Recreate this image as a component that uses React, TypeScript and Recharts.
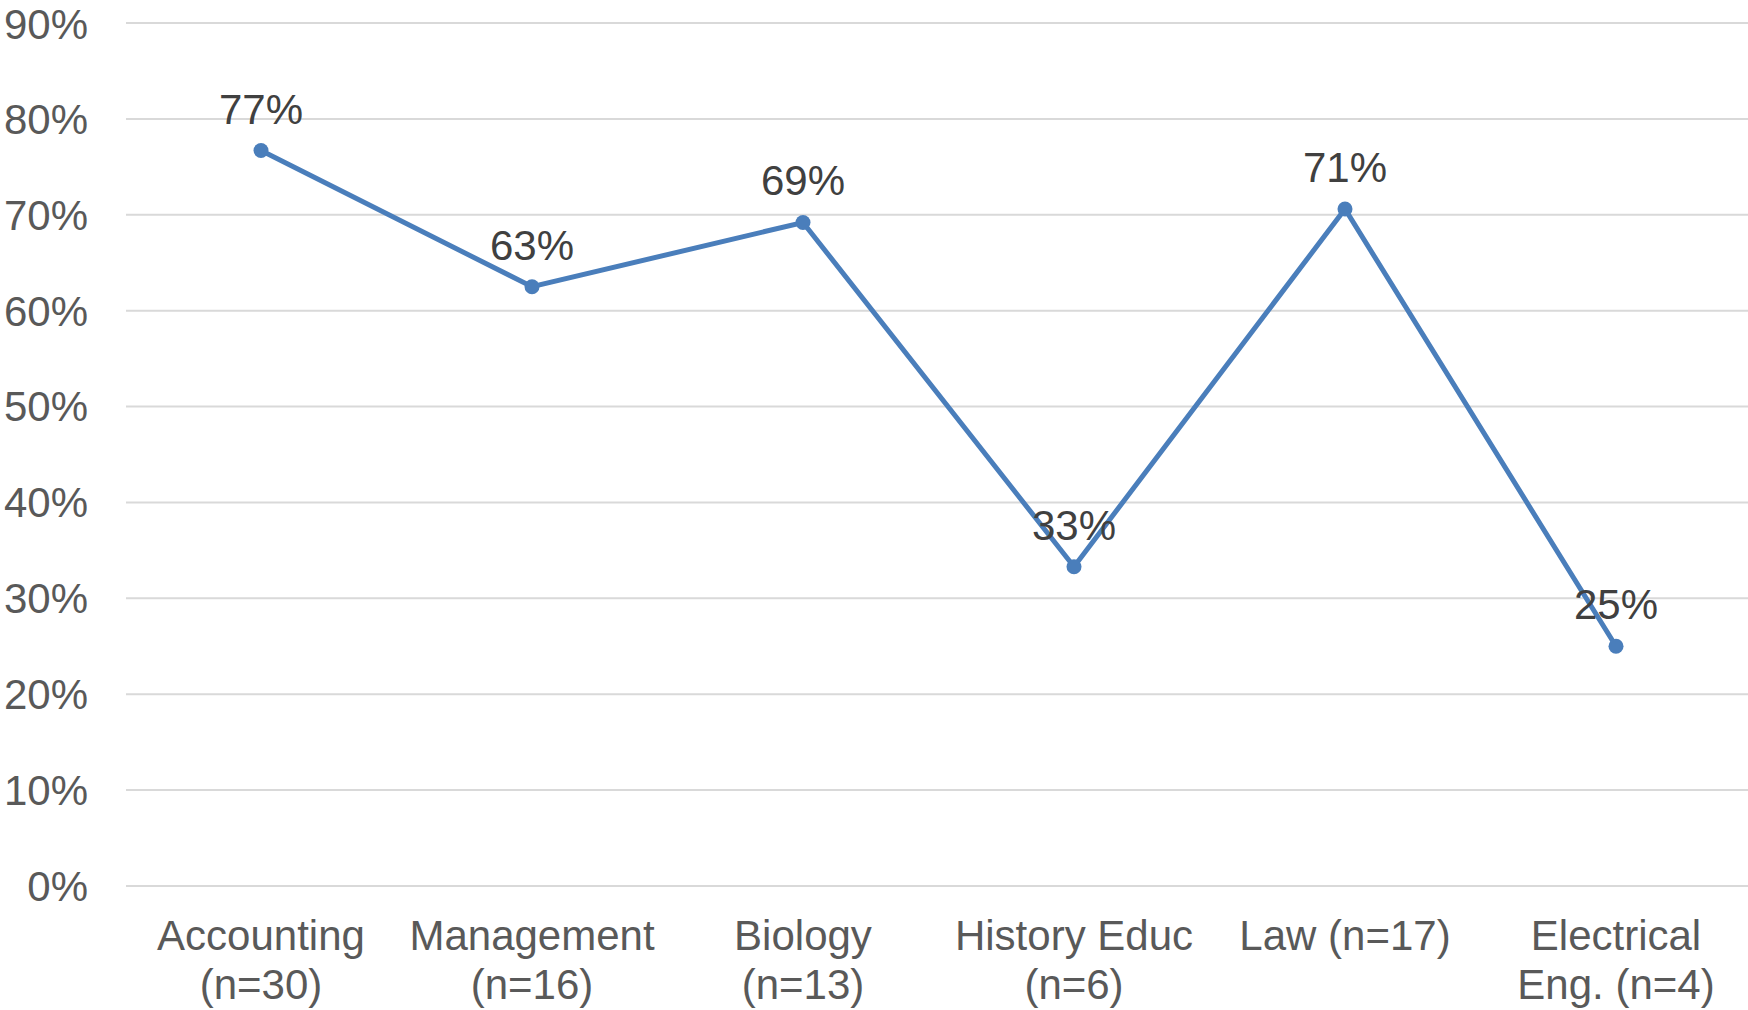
import React from "react";
import { LineChart, Line, XAxis, YAxis, CartesianGrid, LabelList } from "recharts";

const categories = [
  "Accounting\n(n=30)",
  "Management\n(n=16)",
  "Biology\n(n=13)",
  "History Educ\n(n=6)",
  "Law (n=17)",
  "Electrical\nEng. (n=4)",
];
const values = [0.767, 0.625, 0.692, 0.333, 0.706, 0.25];
const yTicks = [0, 0.1, 0.2, 0.3, 0.4, 0.5, 0.6, 0.7, 0.8, 0.9];

const data = categories.map((c, i) => ({ name: c, value: values[i] }));

const FONT = '"Liberation Sans", Arial, sans-serif';
const fmt = (v: number) => `${Math.round(v * 100)}%`;

const XTick = (props: any) => {
  const { x, y, payload } = props;
  const lines = String(payload.value).split("\n");
  return (
    <g>
      {lines.map((l: string, i: number) => (
        <text
          key={i}
          x={x}
          y={y + 64 + i * 49}
          textAnchor="middle"
          fill="#595959"
          fontSize={42}
          fontFamily={FONT}
        >
          {l}
        </text>
      ))}
    </g>
  );
};

const DataLabel = (props: any) => {
  const { x, y, value } = props;
  return (
    <text
      x={x}
      y={y - 27}
      textAnchor="middle"
      fill="#404040"
      fontSize={42}
      fontFamily={FONT}
    >
      {fmt(value)}
    </text>
  );
};

export default function App() {
  return (
    <div style={{ position: "absolute", left: 0, top: 0, width: 1748, height: 1010, background: "#fff" }}>
      <LineChart width={1748} height={1010} data={data} margin={{ top: 23, right: 0, left: 0, bottom: 0 }}>
        <CartesianGrid vertical={false} stroke="#d9d9d9" strokeWidth={2} />
        <XAxis
          dataKey="name"
          height={124}
          axisLine={false}
          tickLine={false}
          tickSize={0}
          tickMargin={0}
          interval={0}
          padding={{ left: 135, right: 132 }}
          tick={<XTick />}
        />
        <YAxis
          width={126}
          domain={[0, 0.9]}
          ticks={yTicks}
          axisLine={false}
          tickLine={false}
          tickSize={0}
          tickMargin={38}
          tickFormatter={fmt}
          tick={{ fill: "#595959", fontSize: 42, fontFamily: FONT }}
        />
        <Line
          type="linear"
          dataKey="value"
          stroke="#4a7ebb"
          strokeWidth={5}
          dot={{ r: 7.5, fill: "#4a7ebb", stroke: "#4a7ebb", strokeWidth: 0 }}
          isAnimationActive={false}
        >
          <LabelList dataKey="value" content={<DataLabel />} />
        </Line>
      </LineChart>
    </div>
  );
}
